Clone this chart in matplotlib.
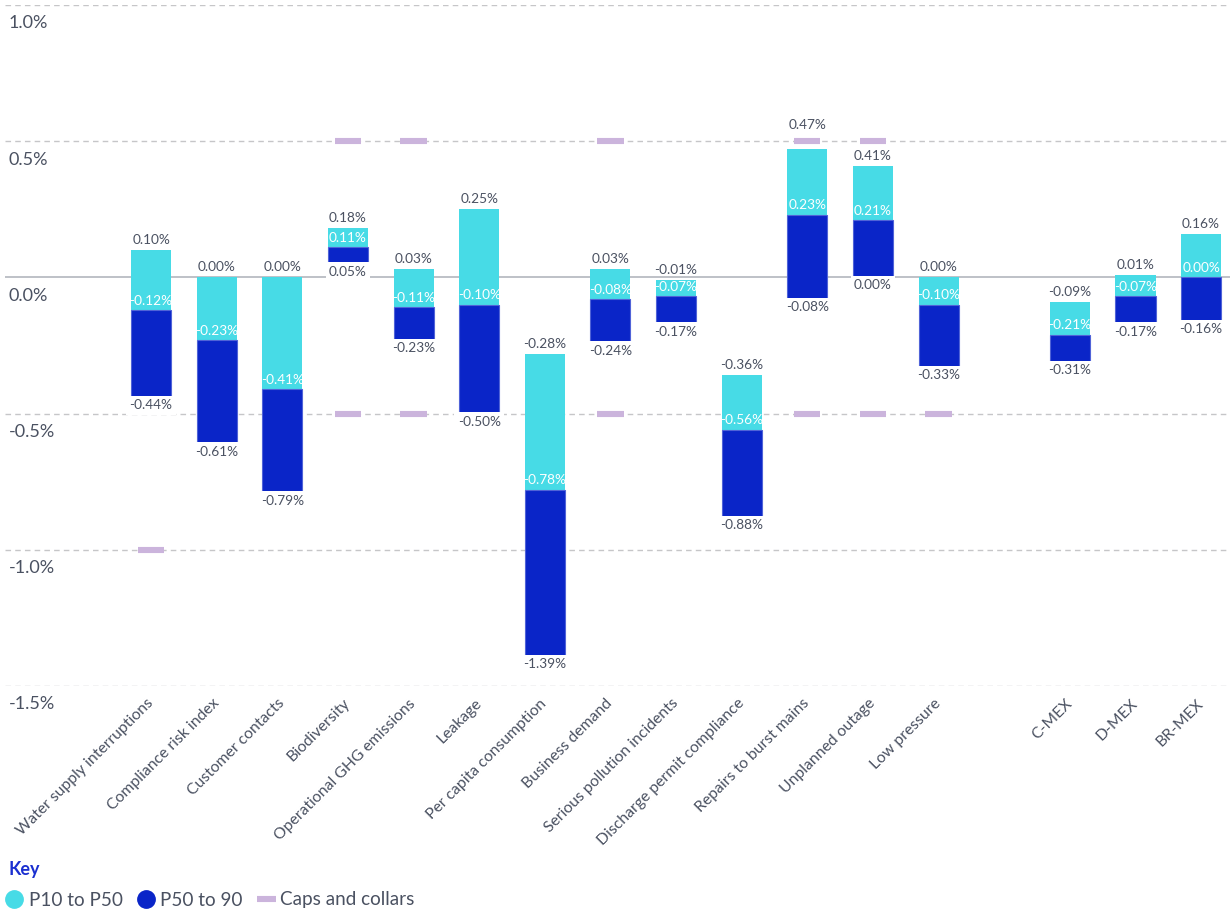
import matplotlib
matplotlib.use("Agg")
import matplotlib.pyplot as plt
from matplotlib.lines import Line2D
import numpy as np

plt.rcParams["font.family"] = ["Lato", "DejaVu Sans"]

# ---- data -------------------------------------------------------------
categories = [
    "Water supply interruptions", "Compliance risk index", "Customer contacts",
    "Biodiversity", "Operational GHG emissions", "Leakage",
    "Per capita consumption", "Business demand", "Serious pollution incidents",
    "Discharge permit compliance", "Repairs to burst mains", "Unplanned outage",
    "Low pressure", "C-MEX", "D-MEX", "BR-MEX",
]
p10 = [0.10, 0.00, 0.00, 0.18, 0.03, 0.25, -0.28, 0.03, -0.01, -0.36,
       0.47, 0.41, 0.00, -0.09, 0.01, 0.16]
p50 = [-0.12, -0.23, -0.41, 0.11, -0.11, -0.10, -0.78, -0.08, -0.07, -0.56,
       0.23, 0.21, -0.10, -0.21, -0.07, 0.00]
p90 = [-0.44, -0.61, -0.79, 0.05, -0.23, -0.50, -1.39, -0.24, -0.17, -0.88,
       -0.08, 0.00, -0.33, -0.31, -0.17, -0.16]
caps = [np.nan, np.nan, np.nan, 0.5, 0.5, np.nan, np.nan, 0.5, np.nan, np.nan,
        0.5, 0.5, np.nan, np.nan, np.nan, np.nan]
collars = [-1.0, np.nan, np.nan, -0.5, -0.5, np.nan, np.nan, -0.5, np.nan, np.nan,
           -0.5, -0.5, -0.5, np.nan, np.nan, np.nan]
yticks = [1.0, 0.5, 0.0, -0.5, -1.0, -1.5]

# ---- style ------------------------------------------------------------
LIGHT = "#47dbe6"
DARK = "#0a25c8"
CAP = "#cbb4dc"
TEXT = "#4a5161"
GRID = "#c6c6c8"
KEY_BLUE = "#1a2fd0"

W, H = 1230, 910
fig = plt.figure(figsize=(W / 100, H / 100), dpi=100)


def fx(px):
    return px / W


def fy(py):
    return 1 - py / H


ax = fig.add_axes([fx(5), fy(686), fx(1230) - fx(5), fy(5) - fy(686)])

# the three MEX measures sit after a one-slot gap
x = np.array(list(range(13)) + [14, 15, 16], dtype=float)
p10 = np.array(p10)
p50 = np.array(p50)
p90 = np.array(p90)
caps = np.array(caps)
collars = np.array(collars)

ax.set_xlim(-2.226, 16.44)
ax.set_ylim(-1.5, 1.0)

for s in ax.spines.values():
    s.set_visible(False)

# grid
for yv in yticks:
    if yv == 0:
        ax.axhline(0, color="#b3b6bd", lw=1.2, zorder=1)
    else:
        ax.axhline(yv, color=GRID, lw=1.0, ls=(0, (4, 3)), zorder=1)
    ax.annotate(f"{yv:.1f}%", xy=(0, yv), xycoords=("axes fraction", "data"),
                xytext=(2.5, -7.5), textcoords="offset points",
                ha="left", va="top", fontsize=13, color=TEXT)
ax.set_yticks([])

bw = 0.61
ax.bar(x, p10 - p50, bottom=p50, width=bw, color=LIGHT, zorder=3)
ax.bar(x, p50 - p90, bottom=p90, width=bw, color=DARK,
       edgecolor="#5063d8", linewidth=0.8, zorder=3)

cw = 0.40
ax.hlines(caps, x - cw / 2, x + cw / 2, color=CAP, lw=4.4, zorder=2,
          capstyle="butt")
ax.hlines(collars, x - cw / 2, x + cw / 2, color=CAP, lw=4.4, zorder=2,
          capstyle="butt")

fs = 9.8
for xi, a, m, b, c in zip(x, p10, p50, p90, caps):
    # top label, lifted above a cap that sits just over the bar
    y_top, off = a, 3
    if not np.isnan(c) and 0 <= c - a < 0.06:
        y_top, off = c, 7
    ax.annotate(f"{a:.2f}%", (xi, y_top), xytext=(0, off),
                textcoords="offset points", ha="center", va="bottom",
                fontsize=fs, color=TEXT, zorder=5)
    ax.annotate(f"{m:.2f}%", (xi, m), xytext=(0, 2.5),
                textcoords="offset points", ha="center", va="bottom",
                fontsize=fs, color="white", zorder=5)
    ax.annotate(f"{b:.2f}%", (xi, b), xytext=(0, -1.5),
                textcoords="offset points", ha="center", va="top",
                fontsize=fs, color=TEXT, zorder=4,
                bbox=dict(boxstyle="square,pad=0.25", fc="white", ec="none"))

ax.set_xticks(x)
ax.set_xticklabels(categories, rotation=45, ha="right", va="center",
                   rotation_mode="anchor", fontsize=11.3, color=TEXT)
ax.tick_params(axis="x", length=0, pad=11)

# key
fig.text(fx(8), fy(869), "Key", fontsize=13, fontweight="bold",
         color=KEY_BLUE, ha="left", va="center")
handles = [
    Line2D([], [], ls="", marker="o", markersize=12.5, color=LIGHT),
    Line2D([], [], ls="", marker="o", markersize=12.5, color=DARK),
    Line2D([], [], color=CAP, lw=4.4, solid_capstyle="butt"),
]
fig.legend(handles, ["P10 to P50", "P50 to 90", "Caps and collars"],
           loc="center left", bbox_to_anchor=(fx(5), fy(900)), ncol=3,
           frameon=False, fontsize=13.6, labelcolor=TEXT, handlelength=1.0,
           handletextpad=0.25, columnspacing=0.75, borderpad=0, borderaxespad=0)

fig.savefig("out.png", dpi=100, facecolor="white")
